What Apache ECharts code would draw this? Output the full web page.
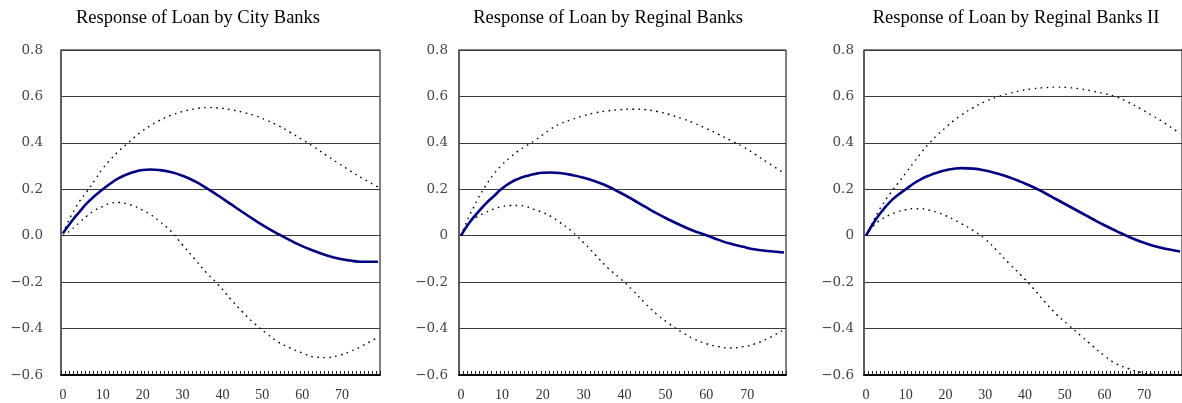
<!DOCTYPE html>
<html>
<head>
<meta charset="utf-8">
<script src="https://cdn.jsdelivr.net/npm/echarts@6/dist/echarts.min.js"></script>
<style>
html,body{margin:0;padding:0;background:#fff;}
#chart{width:1182px;height:403px;}
</style>
</head>
<body>
<div id="chart"></div>
<script>
// Horizon (periods) on the category axis
const periods = Array.from({length: 80}, (_, i) => String(i));
const sampleX = [0, 1, 2, 3, 4, 6, 8, 10, 12, 14, 16, 18, 20, 22, 24, 27, 30, 33, 36, 39, 42, 45, 48, 51, 54, 57, 60, 63, 66, 69, 72, 75, 79];

const titles = ['Response of Loan by City Banks', 'Response of Loan by Reginal Banks', 'Response of Loan by Reginal Banks II'];

// City banks
const cityMid   = [0.01, 0.035, 0.058, 0.08, 0.1, 0.14, 0.172, 0.2, 0.226, 0.248, 0.264, 0.276, 0.283, 0.285, 0.283, 0.274, 0.258, 0.235, 0.205, 0.172, 0.137, 0.102, 0.068, 0.036, 0.007, -0.02, -0.045, -0.066, -0.084, -0.098, -0.107, -0.112, -0.112];
const cityUpper = [0.01, 0.05, 0.085, 0.115, 0.145, 0.19, 0.24, 0.29, 0.33, 0.365, 0.395, 0.425, 0.453, 0.475, 0.495, 0.518, 0.535, 0.546, 0.552, 0.55, 0.543, 0.532, 0.518, 0.498, 0.474, 0.445, 0.414, 0.382, 0.347, 0.313, 0.28, 0.248, 0.21];
const cityLower = [0.0, 0.012, 0.024, 0.04, 0.055, 0.085, 0.11, 0.126, 0.14, 0.143, 0.137, 0.126, 0.11, 0.09, 0.065, 0.02, -0.04, -0.1, -0.16, -0.212, -0.272, -0.328, -0.378, -0.42, -0.458, -0.484, -0.505, -0.522, -0.525, -0.517, -0.499, -0.475, -0.437];

// Regional banks
const regMid   = [0.0, 0.03, 0.055, 0.078, 0.098, 0.137, 0.17, 0.203, 0.228, 0.245, 0.257, 0.266, 0.271, 0.272, 0.27, 0.262, 0.25, 0.233, 0.212, 0.185, 0.156, 0.125, 0.095, 0.068, 0.043, 0.02, 0.002, -0.018, -0.035, -0.048, -0.059, -0.066, -0.072];
const regUpper = [0.0, 0.045, 0.085, 0.12, 0.155, 0.215, 0.265, 0.305, 0.337, 0.365, 0.388, 0.41, 0.435, 0.46, 0.48, 0.5, 0.517, 0.53, 0.538, 0.543, 0.545, 0.543, 0.535, 0.522, 0.505, 0.485, 0.462, 0.437, 0.41, 0.383, 0.35, 0.315, 0.27];
const regLower = [0.0, 0.035, 0.055, 0.07, 0.082, 0.1, 0.115, 0.125, 0.13, 0.13, 0.125, 0.112, 0.1, 0.083, 0.06, 0.02, -0.03, -0.085, -0.14, -0.185, -0.235, -0.29, -0.34, -0.38, -0.415, -0.445, -0.465, -0.478, -0.483, -0.478, -0.465, -0.443, -0.405];

// Regional banks II
const reg2Mid   = [0.0, 0.03, 0.058, 0.083, 0.105, 0.145, 0.175, 0.2, 0.225, 0.245, 0.26, 0.272, 0.282, 0.288, 0.291, 0.289, 0.281, 0.268, 0.252, 0.232, 0.21, 0.184, 0.156, 0.128, 0.1, 0.072, 0.045, 0.02, -0.004, -0.025, -0.042, -0.055, -0.068];
const reg2Upper = [0.0, 0.035, 0.068, 0.1, 0.13, 0.18, 0.225, 0.27, 0.315, 0.36, 0.4, 0.435, 0.465, 0.495, 0.52, 0.552, 0.578, 0.598, 0.613, 0.625, 0.633, 0.638, 0.64, 0.638, 0.632, 0.623, 0.612, 0.598, 0.575, 0.548, 0.518, 0.487, 0.44];
const reg2Lower = [0.0, 0.025, 0.045, 0.06, 0.072, 0.09, 0.103, 0.112, 0.116, 0.116, 0.11, 0.1, 0.087, 0.07, 0.052, 0.022, -0.015, -0.065, -0.12, -0.17, -0.225, -0.285, -0.34, -0.385, -0.43, -0.475, -0.517, -0.552, -0.572, -0.588, -0.597, -0.6, -0.6];

const panels = [
  {mid: cityMid, up: cityUpper, lo: cityLower, left: 61, width: 319, zero: '0.0', labMargin: 18, titleX: 198},
  {mid: regMid, up: regUpper, lo: regLower, left: 459, width: 327, zero: '0', labMargin: 11, titleX: 608},
  {mid: reg2Mid, up: reg2Upper, lo: reg2Lower, left: 864, width: 327, zero: '0', labMargin: 10, titleX: 1016}
];

const pairs = arr => sampleX.map((x, i) => [x, arr[i]]);

const grid = [], xAxis = [], yAxis = [], series = [], title = [];
panels.forEach((p, k) => {
  grid.push({left: p.left, width: p.width, top: 50, height: 325, show: true, borderColor: '#000', borderWidth: 1, containLabel: false});
  title.push({
    text: titles[k], left: p.titleX, top: 9, textAlign: 'center', padding: 0,
    textStyle: {fontFamily: 'Liberation Serif', fontWeight: 'normal', fontSize: 18.5, color: '#000'}
  });
  xAxis.push({
    type: 'category', gridIndex: k, data: periods, boundaryGap: true,
    axisLine: {show: true, onZero: false, lineStyle: {color: '#000', width: 2}},
    axisTick: {show: true, inside: true, interval: 0, length: 4, lineStyle: {color: '#222', width: 1}},
    axisLabel: {
      interval: (idx) => idx % 10 === 0, margin: 13,
      fontFamily: 'Liberation Serif', fontSize: 14, color: '#333'
    },
    splitLine: {show: false}
  });
  yAxis.push({
    type: 'value', gridIndex: k, min: -0.6, max: 0.8, interval: 0.2,
    axisLine: {show: true, lineStyle: {color: '#555', width: 1.5}},
    axisTick: {show: false},
    axisLabel: {
      margin: p.labMargin, fontFamily: 'DejaVu Serif', fontSize: 13.5, color: '#444',
      formatter: v => {
        const r = Math.round(v * 10) / 10;
        if (r === 0) return p.zero;
        return (r < 0 ? '\u2212' : '') + Math.abs(r).toFixed(1);
      }
    },
    splitLine: {show: true, lineStyle: {color: '#3a3a3a', width: 1}}
  });
  const dotted = {color: '#000', width: 1.4, type: [1.6, 4.4]};
  const common = {type: 'line', xAxisIndex: k, yAxisIndex: k, smooth: 0.5, showSymbol: false};
  series.push(Object.assign({}, common, {data: pairs(p.up), lineStyle: dotted, z: 3}));
  series.push(Object.assign({}, common, {data: pairs(p.lo), lineStyle: dotted, z: 3}));
  series.push(Object.assign({}, common, {data: pairs(p.mid), lineStyle: {color: '#000080', width: 2.6}, z: 4}));
});

const chart = echarts.init(document.getElementById('chart'), null, {renderer: 'canvas'});
chart.setOption({animation: false, backgroundColor: '#fff', title, grid, xAxis, yAxis, series});
</script>
</body>
</html>
